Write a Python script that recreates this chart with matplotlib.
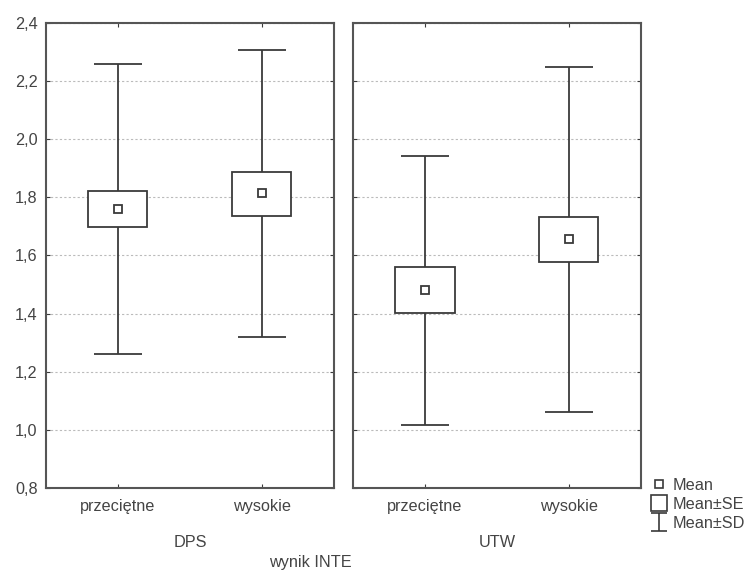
import numpy as np
import matplotlib.pyplot as plt
from matplotlib.lines import Line2D
from matplotlib.path import Path

plt.rcParams['font.family'] = ['Liberation Sans', 'DejaVu Sans']

categories = ['przeciętne', 'wysokie']
groups = ['DPS', 'UTW']

# mean, mean +/- SE, mean +/- SD
mean = {'DPS': [1.760, 1.814], 'UTW': [1.481, 1.657]}
se_lo = {'DPS': [1.697, 1.736], 'UTW': [1.401, 1.579]}
se_hi = {'DPS': [1.823, 1.887], 'UTW': [1.559, 1.731]}
sd_lo = {'DPS': [1.261, 1.318], 'UTW': [1.017, 1.061]}
sd_hi = {'DPS': [2.259, 2.307], 'UTW': [1.943, 2.249]}

yticks = [0.8, 1.0, 1.2, 1.4, 1.6, 1.8, 2.0, 2.2, 2.4]
ytick_labels = ['0,8', '1,0', '1,2', '1,4', '1,6', '1,8', '2,0', '2,2', '2,4']

ink = '#3a3a3a'
txt = '#444444'
fs = 11.7

fig = plt.figure(figsize=(7.44, 5.72), dpi=100)
ax1 = fig.add_axes([0.0618, 0.1469, 0.387, 0.813])
ax2 = fig.add_axes([0.4745, 0.1469, 0.387, 0.813])

x = np.arange(len(categories))
for ax, g in zip([ax1, ax2], groups):
    m = np.array(mean[g])
    lo = m - np.array(sd_lo[g])
    hi = np.array(sd_hi[g]) - m
    ax.errorbar(x, m, yerr=[lo, hi], fmt='none', ecolor=ink,
                elinewidth=1.3, capsize=17, capthick=1.3, zorder=2)
    ax.bar(x, np.array(se_hi[g]) - np.array(se_lo[g]), bottom=se_lo[g],
           width=0.41, color='white', edgecolor=ink, linewidth=1.3, zorder=3)
    ax.plot(x, m, 's', ms=6, mfc='white', mec=ink, mew=1.3, zorder=4)

    ax.set_xlim(-0.5, 1.5)
    ax.set_ylim(0.8, 2.4)
    ax.set_yticks(yticks)
    ax.set_xticks(x)
    ax.set_xticklabels(categories, fontsize=fs, color=txt)
    ax.set_xlabel(g, fontsize=fs, color=txt, labelpad=15)
    ax.tick_params(direction='in', length=3, color=ink, top=True, right=True,
                   pad=8)
    ax.grid(axis='y', color='#bbbbbb', linestyle=(0, (2, 2)), linewidth=0.8)
    ax.set_axisbelow(True)
    for s in ax.spines.values():
        s.set_color('#555555')
        s.set_linewidth(1.5)

ax1.set_yticklabels(ytick_labels, fontsize=fs, color=txt)
ax1.tick_params(axis='y', pad=6)
ax2.set_yticklabels([])

fig.text(310 / 744, 1 - 563 / 572, 'wynik INTE', fontsize=fs, color=txt,
         ha='center', va='center')

# whisker symbol for the legend
sd_marker = Path([(-0.9, -1), (0.9, -1), (0, -1), (0, 1), (-0.9, 1), (0.9, 1)],
                 [Path.MOVETO, Path.LINETO, Path.MOVETO, Path.LINETO,
                  Path.MOVETO, Path.LINETO])
handles = [
    Line2D([], [], marker='s', ls='none', ms=6, mfc='white', mec=ink, mew=1.2),
    Line2D([], [], marker='s', ls='none', ms=12, mfc='white', mec=ink, mew=1.2),
    Line2D([], [], marker=sd_marker, ls='none', ms=13, mfc='none', mec=ink,
           mew=1.2),
]
fig.legend(handles, ['Mean', 'Mean±SE', 'Mean±SD'], loc='upper left',
           bbox_to_anchor=(651 / 744, 1 - 478 / 572), frameon=False,
           fontsize=fs, handlelength=1.0, handletextpad=0.3,
           labelspacing=0.25, borderpad=0, borderaxespad=0, labelcolor=txt)

fig.savefig('out.png', dpi=100)
